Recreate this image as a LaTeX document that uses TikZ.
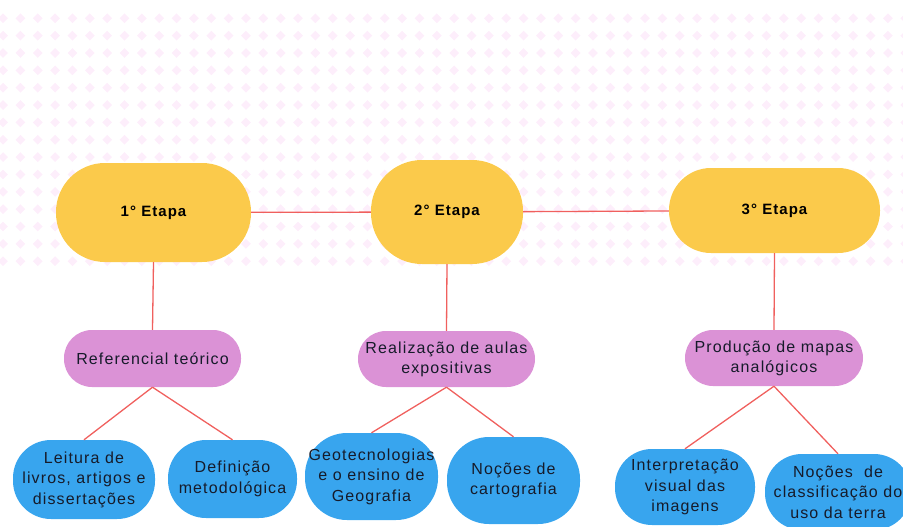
\documentclass[tikz,border=0pt]{standalone}
\usepackage{fontspec}
\setmainfont{Liberation Sans}[LetterSpace=7]
\definecolor{bgpink}{HTML}{FDEEFB}
\definecolor{etyellow}{HTML}{FBCA4B}
\definecolor{refpurple}{HTML}{DB92D6}
\definecolor{topblue}{HTML}{38A5EE}
\definecolor{linered}{HTML}{F0605E}
\definecolor{txtdark}{HTML}{161B2A}
\begin{document}
\begin{tikzpicture}[x=1pt,y=-1pt,
  etapa/.style={fill=etyellow, inner sep=0pt, align=center, text=black,
    font=\bfseries\fontsize{15}{18}\selectfont},
  refbox/.style={fill=refpurple, inner sep=0pt, align=center, text=txtdark,
    font=\fontsize{16}{20}\selectfont},
  leaf/.style={fill=topblue, inner sep=0pt, align=center, text=txtdark,
    font=\fontsize{16}{20.5}\selectfont},
  conn/.style={draw=linered, line width=1.3pt}]
\useasboundingbox (0,0) rectangle (903,527);
\clip (0,0) rectangle (903,527);
% background pattern
\foreach \i in {0,...,52}{
  \foreach \j in {0,...,14}{
    \fill[bgpink] ({3.05+17.35*\i},{18.3+17.35*\j}) +(-4.9,0) -- +(0,-4.9) -- +(4.9,0) -- +(0,4.9) -- cycle;
  }
}
% stages
\node[etapa, minimum width=195pt, minimum height=99pt, rounded corners=49pt] (e1) at (153.5,212.5) {1° Etapa};
\node[etapa, minimum width=152pt, minimum height=104pt, rounded corners=51pt] (e2) at (447,212) {2° Etapa};
\node[etapa, minimum width=211pt, minimum height=85pt, rounded corners=42pt] (e3) at (774.5,210.5) {3° Etapa};
% purple
\node[refbox, minimum width=177pt, minimum height=57pt, rounded corners=28pt] (p1) at (152.5,358.5) {Referencial teórico};
\node[refbox, minimum width=177pt, minimum height=56pt, rounded corners=28pt] (p2) at (446.5,359) {Realização de aulas\\expositivas};
\node[refbox, minimum width=178pt, minimum height=56pt, rounded corners=28pt] (p3) at (774,358) {Produção de mapas\\analógicos};
% blue leaves
\node[leaf, minimum width=142pt, minimum height=79pt, rounded corners=38pt] (b1) at (84,479.5) {Leitura de\\livros, artigos e\\dissertações};
\node[leaf, minimum width=129pt, minimum height=78pt, rounded corners=38pt] (b2) at (232.5,479) {Definição\\metodológica};
\node[leaf, minimum width=133pt, minimum height=87pt, rounded corners=42pt] (b3) at (371.5,476.5) {Geotecnologias\\e o ensino de\\Geografia};
\node[leaf, minimum width=133pt, minimum height=87pt, rounded corners=42pt] (b4) at (513.5,480.5) {Noções de\\cartografia};
\node[leaf, minimum width=140pt, minimum height=76pt, rounded corners=37pt] (b5) at (685,487) {Interpretação\\visual das\\imagens};
\node[leaf, minimum width=146pt, minimum height=76pt, rounded corners=37pt] (b6) at (838,492) {Noções\ \ de\\classificação do\\uso da terra};
% connectors
\draw[conn] (e1) -- (e2);
\draw[conn] (e2) -- (e3);
\draw[conn] (e1.south) -- (p1.north);
\draw[conn] (e2.south) -- (p2.north);
\draw[conn] (e3.south) -- (p3.north);
\draw[conn] (p1.south) -- (b1.north);
\draw[conn] (p1.south) -- (b2.north);
\draw[conn] (p2.south) -- (b3.north);
\draw[conn] (p2.south) -- (b4.north);
\draw[conn] (p3.south) -- (b5.north);
\draw[conn] (p3.south) -- (b6.north);
\end{tikzpicture}
\end{document}
